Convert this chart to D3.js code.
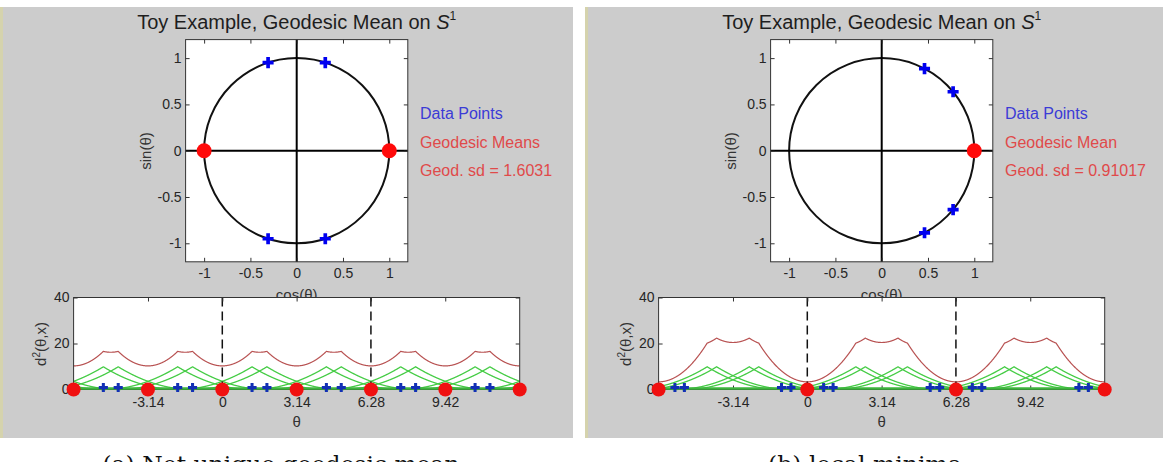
<!DOCTYPE html>
<html>
<head>
<meta charset="utf-8">
<script src="https://cdn.jsdelivr.net/npm/d3@7"></script>
<style>
body { margin: 0; background: #fff; }
</style>
</head>
<body>
<script>
const TAU = 2 * Math.PI;

// values
const dataAnglesA = [1.257, 1.885, -1.885, -1.257];
const meanAnglesA = [0, 3.1416];
const dataAnglesB = [0.69, 1.09, -0.69, -1.09];
const meanAnglesB = [0];
const legendA = ["Data Points", "Geodesic Means", "Geod. sd = 1.6031"];
const legendB = ["Data Points", "Geodesic Mean", "Geod. sd = 0.91017"];
const captions = ["(a) Not unique geodesic mean", "(b) local minima"];
const circleTicks = [-1, -0.5, 0, 0.5, 1];
const circleTickLabels = ["-1", "-0.5", "0", "0.5", "1"];
const thetaTicks = [-3.14, 0, 3.14, 6.28, 9.42];
const thetaTickLabels = ["-3.14", "0", "3.14", "6.28", "9.42"];
const distTicks = [0, 20, 40];
const dashedAt = [0, 6.28];

const FONT = "'Liberation Sans', Arial, Helvetica, sans-serif";
const legendColors = ["#3b3bd6", "#e04a4a", "#e04a4a"];

const svg = d3.select("body").append("svg")
  .attr("width", 1164).attr("height", 462);

// geodesic distance on the circle
function geod(a, b) {
  let d = Math.abs(a - b) % TAU;
  return Math.min(d, TAU - d);
}

function drawPanel(ox, dataAngles, means, legend, caption, capX, capW) {
  const g = svg.append("g");

  // figure background
  g.append("rect").attr("x", ox).attr("y", 7).attr("width", ox ? 578 : 573).attr("height", 431)
    .attr("fill", "#cccccc");
  g.append("rect").attr("x", ox).attr("y", 7).attr("width", 3).attr("height", 431)
    .attr("fill", "#d5d3ad");

  // ---- top: the circle ----
  const x = d3.scaleLinear().domain([-1.2, 1.2]).range([185.6 + ox, 407.8 + ox]);
  const y = d3.scaleLinear().domain([-1.2, 1.2]).range([261.8, 39.6]);

  g.append("text").attr("x", 296.7 + ox).attr("y", 28.5)
    .attr("text-anchor", "middle").attr("font-family", FONT).attr("font-size", 20)
    .attr("fill", "#1e1e1e")
    .call(t => {
      t.append("tspan").text("Toy Example, Geodesic Mean on ");
      t.append("tspan").attr("font-style", "italic").text("S");
      t.append("tspan").attr("dy", -9).attr("font-size", 12).text("1");
    });

  g.append("rect").attr("x", x(-1.2)).attr("y", y(1.2))
    .attr("width", x(1.2) - x(-1.2)).attr("height", y(-1.2) - y(1.2))
    .attr("fill", "#fff");

  g.append("ellipse").attr("cx", x(0)).attr("cy", y(0))
    .attr("rx", x(1) - x(0)).attr("ry", y(0) - y(1))
    .attr("fill", "none").attr("stroke", "#111").attr("stroke-width", 2);
  g.append("line").attr("x1", x(-1.2)).attr("x2", x(1.2)).attr("y1", y(0)).attr("y2", y(0))
    .attr("stroke", "#000").attr("stroke-width", 2);
  g.append("line").attr("x1", x(0)).attr("x2", x(0)).attr("y1", y(1.2)).attr("y2", y(-1.2))
    .attr("stroke", "#000").attr("stroke-width", 2);

  function styleAxis(sel) {
    sel.select(".domain").remove();
    sel.selectAll("line").attr("stroke", "#333");
    sel.selectAll("text").attr("font-family", FONT).attr("font-size", 14).attr("fill", "#262626");
    sel.attr("font-family", FONT);
  }

  g.append("g").attr("transform", `translate(${x(-1.2)},0)`)
    .call(d3.axisLeft(y).tickValues(circleTicks).tickSize(-4).tickPadding(4)
      .tickFormat((d, i) => circleTickLabels[i])).call(styleAxis);
  g.append("g").attr("transform", `translate(${x(1.2)},0)`)
    .call(d3.axisRight(y).tickValues(circleTicks).tickSize(-4).tickFormat("")).call(styleAxis);
  g.append("g").attr("transform", `translate(0,${y(-1.2)})`)
    .call(d3.axisBottom(x).tickValues(circleTicks).tickSize(-4).tickPadding(6)
      .tickFormat((d, i) => circleTickLabels[i])).call(styleAxis);
  g.append("g").attr("transform", `translate(0,${y(1.2)})`)
    .call(d3.axisTop(x).tickValues(circleTicks).tickSize(-4).tickFormat("")).call(styleAxis);

  g.append("rect").attr("x", x(-1.2)).attr("y", y(1.2))
    .attr("width", x(1.2) - x(-1.2)).attr("height", y(-1.2) - y(1.2))
    .attr("fill", "none").attr("stroke", "#333").attr("stroke-width", 1);

  g.append("text").attr("transform", `translate(${146 + ox},151) rotate(-90)`)
    .attr("text-anchor", "middle").attr("dy", "0.35em")
    .attr("font-family", FONT).attr("font-size", 15).attr("fill", "#333").text("sin(θ)");
  g.append("text").attr("x", x(0)).attr("y", 300)
    .attr("text-anchor", "middle").attr("font-family", FONT).attr("font-size", 15)
    .attr("fill", "#333").text("cos(θ)");

  g.selectAll(".cmean").data(means).join("circle")
    .attr("cx", d => x(Math.cos(d))).attr("cy", d => y(Math.sin(d)))
    .attr("r", 7.5).attr("fill", "#ff0a0a");
  g.selectAll(".cdata").data(dataAngles).join("path")
    .attr("transform", d => `translate(${x(Math.cos(d))},${y(Math.sin(d))})`)
    .attr("d", d3.symbol(d3.symbolCross, 68)).attr("fill", "#0000f0");

  legend.forEach((txt, i) => {
    g.append("text").attr("x", 420 + ox).attr("y", 119 + i * 28.5)
      .attr("font-family", FONT).attr("font-size", 16).attr("fill", legendColors[i]).text(txt);
  });

  // ---- bottom: squared distance functions ----
  const bx = d3.scaleLinear().domain([-TAU, 2 * TAU]).range([73.6 + ox, 519.7 + ox]);
  const by = d3.scaleLinear().domain([0, 40]).range([389.5, 297.5]);

  g.append("rect").attr("x", bx(-TAU)).attr("y", by(40))
    .attr("width", bx(2 * TAU) - bx(-TAU)).attr("height", by(0) - by(40))
    .attr("fill", "#fff");

  const thetas = d3.range(-TAU, 2 * TAU + 1e-9, 0.01);
  const line = d3.line().x(d => bx(d[0])).y(d => by(d[1]));

  dataAngles.forEach(a => {
    g.append("path").datum(thetas.map(t => [t, geod(t, a) ** 2]))
      .attr("d", line).attr("fill", "none").attr("stroke", "#45cc45").attr("stroke-width", 1.3);
  });
  g.append("path").datum(thetas.map(t => [t, d3.sum(dataAngles, a => geod(t, a) ** 2)]))
    .attr("d", line).attr("fill", "none").attr("stroke", "#b85252").attr("stroke-width", 1.2);

  g.selectAll(".dash").data(dashedAt).join("line")
    .attr("x1", d => bx(d)).attr("x2", d => bx(d)).attr("y1", by(40)).attr("y2", by(0))
    .attr("stroke", "#111").attr("stroke-width", 1.5).attr("stroke-dasharray", "9,5");

  g.append("g").attr("transform", `translate(${bx(-TAU)},0)`)
    .call(d3.axisLeft(by).tickValues(distTicks).tickSize(-4).tickPadding(4)).call(styleAxis);
  g.append("g").attr("transform", `translate(${bx(2 * TAU)},0)`)
    .call(d3.axisRight(by).tickValues(distTicks).tickSize(-4).tickFormat("")).call(styleAxis);
  g.append("g").attr("transform", `translate(0,${by(0)})`)
    .call(d3.axisBottom(bx).tickValues(thetaTicks).tickSize(-4).tickPadding(8)
      .tickFormat((d, i) => thetaTickLabels[i])).call(styleAxis);
  g.append("g").attr("transform", `translate(0,${by(40)})`)
    .call(d3.axisTop(bx).tickValues(thetaTicks).tickSize(-4).tickFormat("")).call(styleAxis);

  g.append("rect").attr("x", bx(-TAU)).attr("y", by(40))
    .attr("width", bx(2 * TAU) - bx(-TAU)).attr("height", by(0) - by(40))
    .attr("fill", "none").attr("stroke", "#333").attr("stroke-width", 1);

  g.append("line").attr("x1", bx(-TAU)).attr("x2", bx(2 * TAU)).attr("y1", by(0) - 1).attr("y2", by(0) - 1)
    .attr("stroke", "#3cb43c").attr("stroke-width", 2.5);

  // replicate points over the periods shown
  const shifts = [-TAU, 0, TAU, 2 * TAU];
  const inRange = v => v >= -TAU - 1e-6 && v <= 2 * TAU + 1e-6;
  const wrap = a => ((a % TAU) + TAU) % TAU;
  const dataPts = dataAngles.flatMap(a => shifts.map(s => wrap(a) + s)).filter(inRange);
  const meanPts = means.flatMap(a => [-2 * TAU, -TAU, 0, TAU, 2 * TAU].map(s => wrap(a) + s))
    .filter(inRange);

  g.selectAll(".bdata").data(dataPts).join("path")
    .attr("transform", d => `translate(${bx(d)},${by(0) - 2})`)
    .attr("d", d3.symbol(d3.symbolCross, 46)).attr("fill", "#1230b4");
  g.selectAll(".bmean").data(meanPts).join("circle")
    .attr("cx", d => bx(d)).attr("cy", by(0)).attr("r", 7).attr("fill", "#f01010");

  g.append("text").attr("transform", `translate(${41 + ox},344) rotate(-90)`)
    .attr("text-anchor", "middle").attr("dy", "0.35em")
    .attr("font-family", FONT).attr("font-size", 15).attr("fill", "#333")
    .call(t => {
      t.append("tspan").text("d");
      t.append("tspan").attr("dy", -6).attr("font-size", 10).text("2");
      t.append("tspan").attr("dy", 6).text("(θ,x)");
    });
  g.append("text").attr("x", bx(0) + (bx(TAU) - bx(0)) / 2).attr("y", 427)
    .attr("text-anchor", "middle").attr("font-family", FONT).attr("font-size", 15)
    .attr("fill", "#333").text("θ");

  // caption, cut off by the bottom edge as in the original
  g.append("text").attr("x", capX).attr("y", 472).attr("text-anchor", "middle")
    .attr("font-family", "'DejaVu Serif', 'Liberation Serif', serif").attr("font-size", 22)
    .attr("fill", "#111").attr("textLength", capW).attr("lengthAdjust", "spacingAndGlyphs")
    .text(caption);
}

drawPanel(0, dataAnglesA, meanAnglesA, legendA, captions[0], 281, 357);
drawPanel(585, dataAnglesB, meanAnglesB, legendB, captions[1], 865, 194);
</script>
</body>
</html>
